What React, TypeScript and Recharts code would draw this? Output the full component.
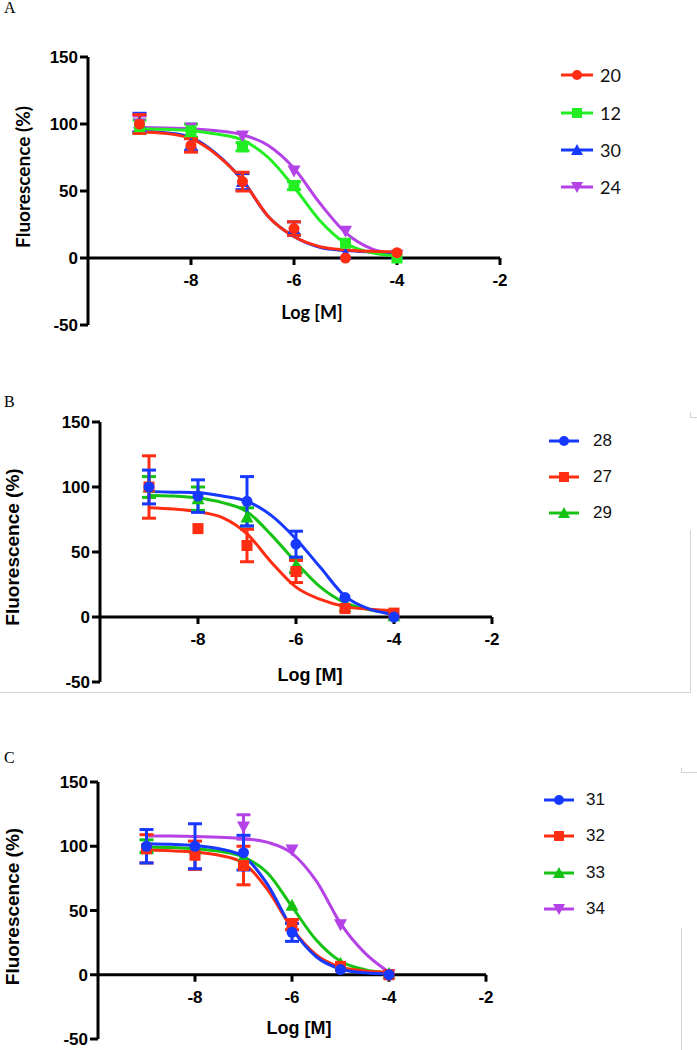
import React from "react";
import { ComposedChart, Line, Scatter, ErrorBar, XAxis, YAxis, ReferenceLine, ReferenceDot } from "recharts";

const ARIAL = '"Liberation Sans", Arial, Helvetica, sans-serif';
const LATO = 'Lato, "Open Sans", sans-serif';
const SERIF = '"Liberation Serif", "Times New Roman", serif';

const RED = "#ff2d12";
const GREEN_A = "#22ef22";
const GREEN = "#14c214";
const BLUE = "#1638ff";
const PURPLE = "#b442e6";

// doses (log M) where points were measured, and where the fitted curves were read
const doseX = [-9, -8, -7, -6, -5, -4];
const curveX = [-9, -8.5, -8, -7.5, -7, -6.5, -6, -5.5, -5, -4.5, -4];
const xTicks = [-8, -6, -4, -2];
const yTicks = [-50, 0, 50, 100, 150];

// panel A
const a20Pts = [100, 84, 57, 22, 0, 4];
const a20Err = [7, 5, 7, 5, 0, 0];
const a20Curve = [94, 93, 89, 77, 58, 31, 16, 8.5, 6, 5, 4.5];
const a12Pts = [98, 95, 83, 54, 11, 0];
const a12Err = [5, 5, 3, 3, 0, 0];
const a12Curve = [96.5, 96, 95, 92.5, 88, 75, 53, 28, 11, 4, 1.5];
const a30Pts = [101, 85, 57, 22, 3, 3];
const a30Err = [7, 5, 6, 5, 0, 0];
const a30Curve = [95, 93.5, 90, 77.5, 58, 31, 16, 8, 5.5, 4.5, 4];
const a24Pts = [100, 97, 91, 65, 20, 2];
const a24Err = [6, 0, 0, 0, 0, 0];
const a24Curve = [97.5, 97, 96.5, 95, 92, 84, 67, 41, 19, 7, 3];

// panel B
const b28Pts = [100, 93, 89, 56, 15, 0];
const b28Err = [13, 12.5, 19, 10, 0, 0];
const b28Curve = [96.5, 96, 95.5, 93, 89, 78, 60, 38, 16, 6, 2];
const b27Pts = [100, 68, 55, 35, 6.5, 3];
const b27Err = [24, 0, 12.5, 8.5, 0, 0];
const b27Curve = [84, 83, 81, 76.5, 64, 42, 23, 13.5, 8, 6, 5];
const b29Pts = [100, 91, 77, 40, 8, 1];
const b29Err = [8, 9, 7, 6, 0, 0];
const b29Curve = [93.5, 93, 91.5, 88, 81, 63, 42, 23, 11, 5.5, 3];

// panel C
const c31Pts = [100, 100, 95, 33, 4, 0];
const c31Err = [13, 17.5, 13.5, 7, 0, 0];
const c31Curve = [102, 101.5, 100.5, 98, 92, 70, 36, 14, 4.5, 1.5, 0.5];
const c32Pts = [98, 93, 85, 39, 6.5, 0];
const c32Err = [11, 11, 15, 4, 0, 0];
const c32Curve = [97, 96.5, 95.5, 93, 87, 66, 36, 15.5, 6, 3, 2];
const c33Pts = [100, 98, 92, 54, 9, 1];
const c33Err = [5, 0, 0, 0, 0, 0];
const c33Curve = [99.5, 99, 98, 96, 91.5, 79, 53, 27, 10.5, 4, 1.5];
const c34Pts = [null, null, 115, 97, 39, 0];
const c34Err = [0, 0, 9.5, 0, 0, 0];
const c34Curve = [108, 108, 107.5, 107, 106, 103, 94.5, 73, 40, 17, 2];

type Shape = "circle" | "square" | "up" | "down";
type Series = { name: string; color: string; shape: Shape; pts: (number | null)[]; err: number[]; curve: number[] };

function Mark({ cx, cy, shape, color, size = 11 }: { cx: number; cy: number; shape: Shape; color: string; size?: number }) {
  const r = size / 2;
  if (shape === "circle") return <circle cx={cx} cy={cy} r={r} fill={color} />;
  if (shape === "square") return <rect x={cx - r} y={cy - r} width={size} height={size} fill={color} />;
  if (shape === "up")
    return <polygon points={`${cx},${cy - r - 1} ${cx + r + 1},${cy + r} ${cx - r - 1},${cy + r}`} fill={color} />;
  return <polygon points={`${cx - r - 1},${cy - r} ${cx + r + 1},${cy - r} ${cx},${cy + r + 1}`} fill={color} />;
}

const panels = [
  {
    top: 0, height: 345, margin: { top: 57, left: 28, right: 197, bottom: 20 },
    letter: "A", letterTop: 0, titleFont: LATO, titleSize: 18, yLabelX: 22, yLabelDy: -14,
    xLabel: { x: 312, y: 312 },
    legend: { x1: 561, x2: 593, tx: 600, rows: [75, 113, 150, 187], font: LATO, size: 18 },
    series: [
      { name: "20", color: RED, shape: "circle", pts: a20Pts, err: a20Err, curve: a20Curve },
      { name: "12", color: GREEN_A, shape: "square", pts: a12Pts, err: a12Err, curve: a12Curve },
      { name: "30", color: BLUE, shape: "up", pts: a30Pts, err: a30Err, curve: a30Curve },
      { name: "24", color: PURPLE, shape: "down", pts: a24Pts, err: a24Err, curve: a24Curve },
    ] as Series[],
  },
  {
    top: 370, height: 330, margin: { top: 52, left: 40, right: 205, bottom: 18 },
    letter: "B", letterTop: 394, titleFont: ARIAL, titleSize: 18, yLabelX: 12, yLabelDy: -5,
    xLabel: { x: 310, y: 675 },
    legend: { x1: 549, x2: 579, tx: 593, rows: [441, 477, 513], font: ARIAL, size: 17 },
    series: [
      { name: "28", color: BLUE, shape: "circle", pts: b28Pts, err: b28Err, curve: b28Curve },
      { name: "27", color: RED, shape: "square", pts: b27Pts, err: b27Err, curve: b27Curve },
      { name: "29", color: GREEN, shape: "up", pts: b29Pts, err: b29Err, curve: b29Curve },
    ] as Series[],
  },
  {
    top: 730, height: 320, margin: { top: 52, left: 38, right: 211, bottom: 11 },
    letter: "C", letterTop: 750, titleFont: ARIAL, titleSize: 18, yLabelX: 12, yLabelDy: -4,
    xLabel: { x: 299, y: 1028 },
    legend: { x1: 544, x2: 574, tx: 586, rows: [800, 836, 873, 909], font: ARIAL, size: 17 },
    series: [
      { name: "31", color: BLUE, shape: "circle", pts: c31Pts, err: c31Err, curve: c31Curve },
      { name: "32", color: RED, shape: "square", pts: c32Pts, err: c32Err, curve: c32Curve },
      { name: "33", color: GREEN, shape: "up", pts: c33Pts, err: c33Err, curve: c33Curve },
      { name: "34", color: PURPLE, shape: "down", pts: c34Pts, err: c34Err, curve: c34Curve },
    ] as Series[],
  },
];

const toPts = (s: Series) =>
  doseX.map((x, i) => ({ x, y: s.pts[i], e: s.err[i] })).filter((d) => d.y != null);
const toCurve = (s: Series) => curveX.map((x, i) => ({ x, y: s.curve[i] }));

function Panel({ p }: { p: (typeof panels)[number] }) {
  const drawOrder = [...p.series].reverse();
  return (
    <>
      <div style={{ position: "absolute", left: 4, top: p.letterTop, fontFamily: SERIF, fontSize: 16, lineHeight: "16px" }}>
        {p.letter}
      </div>
      <div style={{ position: "absolute", left: 0, top: p.top, width: 697, height: p.height }}>
        <ComposedChart width={697} height={p.height} margin={p.margin}>
          <XAxis type="number" dataKey="x" domain={[-10, -2]} allowDataOverflow hide />
          <YAxis
            type="number"
            domain={[-50, 150]}
            ticks={yTicks}
            interval={0}
            allowDataOverflow
            width={60}
            axisLine={{ stroke: "#000", strokeWidth: 3 }}
            tickLine={{ stroke: "#000", strokeWidth: 3 }}
            tickSize={8}
            tickMargin={2}
            tick={{ fill: "#000", fontSize: 17, fontWeight: "bold", fontFamily: ARIAL }}
            label={(lp: any) => {
              const vb = lp.viewBox || {};
              const cy = (vb.y || 0) + (vb.height || 0) / 2 + p.yLabelDy;
              return (
                <text
                  x={p.yLabelX}
                  y={cy}
                  transform={`rotate(-90, ${p.yLabelX}, ${cy})`}
                  textAnchor="middle"
                  dominantBaseline="central"
                  fontFamily={p.titleFont}
                  fontWeight="bold"
                  fontSize={p.titleSize + 1}
                  fill="#000"
                >
                  Fluorescence (%)
                </text>
              );
            }}
          />
          <ReferenceLine y={0} stroke="#000" strokeWidth={3} />
          {xTicks.map((t) => (
            <ReferenceDot
              key={t}
              x={t}
              y={0}
              r={0}
              shape={(d: any) => (
                <g>
                  <line x1={d.cx} y1={d.cy} x2={d.cx} y2={d.cy + 7} stroke="#000" strokeWidth={3} />
                  <text x={d.cx} y={d.cy + 28} textAnchor="middle" fontFamily={ARIAL} fontWeight="bold" fontSize={17} fill="#000">
                    {t}
                  </text>
                </g>
              )}
            />
          ))}
          {drawOrder.map((s) => (
            <Line
              key={"l" + s.name}
              data={toCurve(s)}
              dataKey="y"
              type="monotone"
              stroke={s.color}
              strokeWidth={3}
              dot={false}
              activeDot={false}
              isAnimationActive={false}
            />
          ))}
          {drawOrder.map((s) => (
            <Scatter
              key={"s" + s.name}
              data={toPts(s)}
              dataKey="y"
              fill={s.color}
              isAnimationActive={false}
              shape={(d: any) => <Mark cx={d.cx} cy={d.cy} shape={s.shape} color={s.color} />}
            >
              <ErrorBar dataKey="e" direction="y" width={7} strokeWidth={3} stroke={s.color} />
            </Scatter>
          ))}
        </ComposedChart>
      </div>
      <div
        style={{
          position: "absolute", left: p.xLabel.x - 60, top: p.xLabel.y - 11, width: 120, lineHeight: "22px",
          textAlign: "center", fontFamily: p.titleFont, fontWeight: "bold", fontSize: p.titleSize, color: "#000",
        }}
      >
        Log [M]
      </div>
      {p.series.map((s, i) => {
        const y = p.legend.rows[i];
        const w = p.legend.x2 - p.legend.x1;
        return (
          <React.Fragment key={"g" + s.name}>
            <svg style={{ position: "absolute", left: p.legend.x1, top: y - 8 }} width={w} height={16}>
              <line x1={0} y1={8} x2={w} y2={8} stroke={s.color} strokeWidth={3} />
              <Mark cx={w / 2} cy={8} shape={s.shape} color={s.color} size={10} />
            </svg>
            <div
              style={{
                position: "absolute", left: p.legend.tx, top: y - 11, lineHeight: "22px",
                fontFamily: p.legend.font, fontSize: p.legend.size, color: "#111",
              }}
            >
              {s.name}
            </div>
          </React.Fragment>
        );
      })}
    </>
  );
}

const frame = "#d4d4d4";

export default function App() {
  return (
    <div style={{ position: "absolute", left: 0, top: 0, width: 697, height: 1050, background: "#fff", overflow: "hidden" }}>
      {panels.map((p) => (
        <Panel key={p.letter} p={p} />
      ))}
      {/* page-edge lines left over from the source document */}
      <div style={{ position: "absolute", left: 0, top: 692, width: 690, height: 1, background: frame }} />
      <div style={{ position: "absolute", left: 690, top: 530, width: 1, height: 163, background: frame }} />
      <div style={{ position: "absolute", left: 690, top: 412, width: 1, height: 5, background: frame }} />
      <div style={{ position: "absolute", left: 690, top: 417, width: 7, height: 1, background: frame }} />
      <div style={{ position: "absolute", left: 681, top: 928, width: 1, height: 122, background: frame }} />
      <div style={{ position: "absolute", left: 681, top: 768, width: 1, height: 4, background: frame }} />
      <div style={{ position: "absolute", left: 681, top: 772, width: 16, height: 1, background: frame }} />
    </div>
  );
}
